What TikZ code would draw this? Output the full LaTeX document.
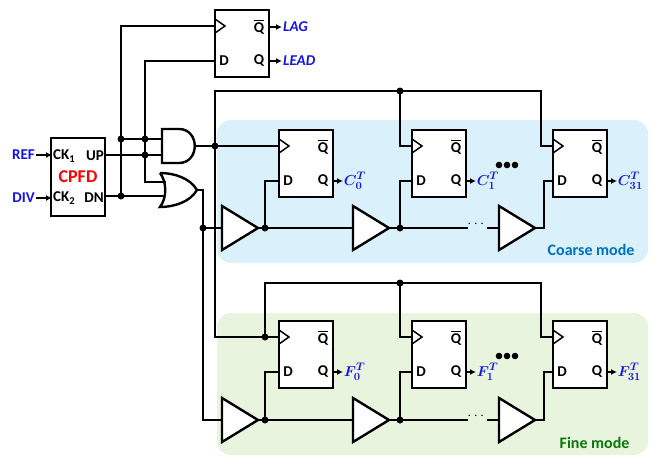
\documentclass[tikz,border=0pt]{standalone}
\usepackage{fontspec}
\setmainfont{Carlito}
\usepackage{amsmath,bm}
\usetikzlibrary{arrows.meta}

\definecolor{sigblue}{RGB}{20,20,230}
\definecolor{coarsebg}{RGB}{218,240,251}
\definecolor{finebg}{RGB}{232,244,222}
\definecolor{coarsetxt}{RGB}{0,112,192}
\definecolor{finetxt}{RGB}{10,120,10}

\tikzset{
  wire/.style={line width=1.9pt},
  ff/.style={line width=2.6pt, fill=white},
  buf/.style={line width=2.4pt, fill=white},
  dot/.style={circle, fill=black, inner sep=0pt, minimum size=7pt},
  pin/.style={font=\bfseries\fontsize{15}{15}\selectfont, inner sep=0pt},
  sig/.style={font=\bfseries\fontsize{15}{15}\selectfont, text=sigblue, inner sep=1pt},
  outarrow/.style={wire, -{Latex[length=6pt,width=6pt]}},
}

% flip-flop: name, left x, top y
\newcommand{\dffbox}[3]{%
  \draw[ff] (#2,#3) rectangle ++(54,67);
  \draw[line width=1.5pt] (#2,#3+9) -- (#2+10,#3+16) -- (#2,#3+23);
  \node[pin] at (#2+9,#3+51) {D};
  \node[pin] at (#2+44,#3+51) {Q};
  \node[pin] at (#2+44,#3+17) {$\overline{\mbox{Q}}$};
  \coordinate (#1-clk) at (#2,#3+16);
  \coordinate (#1-d) at (#2,#3+51);
  \coordinate (#1-q) at (#2+54,#3+51);
}
% buffer: name, input x, mid y
\newcommand{\bufgate}[3]{%
  \draw[buf] (#2,#3-22) -- (#2+36,#3) -- (#2,#3+22) -- cycle;
  \coordinate (#1-in) at (#2,#3);
  \coordinate (#1-out) at (#2+36,#3);
}

\begin{document}
\begin{tikzpicture}[x=1pt,y=-1pt]
  \useasboundingbox (0,0) rectangle (656,464);

  % mode regions
  \fill[coarsebg, rounded corners=14pt] (217,120) rectangle (648,263);
  \fill[finebg, rounded corners=14pt] (217,313) rectangle (648,455);
  \node[font=\bfseries\fontsize{16}{16}\selectfont, text=coarsetxt, anchor=east] (cmode) at (638,250) {Coarse mode};
  \node[font=\bfseries\fontsize{16}{16}\selectfont, text=finetxt, anchor=east] (fmode) at (633,443) {Fine mode};

  % CPFD
  \draw[ff] (51,138) rectangle (105,216);
  \node[pin, anchor=west] (ck1) at (53,156) {CK\textsubscript{1}};
  \node[pin, anchor=east] (up) at (104,156) {UP};
  \node[pin, anchor=west] (ck2) at (53,198) {CK\textsubscript{2}};
  \node[pin, anchor=east] (dn) at (104,198) {DN};
  \node[font=\bfseries\fontsize{18}{18}\selectfont, text=red] (cpfd) at (78,177) {CPFD};
  \node[sig, anchor=east] (ref) at (36,155) {REF};
  \node[sig, anchor=east] (div) at (36,198) {DIV};
  \draw[outarrow] (ref) -- (52,155);
  \draw[outarrow] (div) -- (52,198);

  % lead/lag flip-flop
  \dffbox{ll}{215}{10}
  \node[sig, font=\bfseries\itshape\fontsize{15}{15}\selectfont, anchor=west] (lag) at (282,27) {LAG};
  \node[sig, font=\bfseries\itshape\fontsize{15}{15}\selectfont, anchor=west] (lead) at (282,61) {LEAD};
  \draw[outarrow] (269,27) -- (lag);
  \draw[outarrow] (ll-q) -- (lead);

  % gates
  \draw[buf] (162,129) -- (179,129) .. controls (200,129) and (200,163) .. (179,163) -- (162,163) -- cycle;
  \draw[buf] (160,173) .. controls (174,173) and (190,178) .. (197,190) .. controls (190,202) and (174,207) .. (160,207) .. controls (167,198) and (167,182) .. (160,173);

  % phase detector wiring
  \draw[wire] (105,155) -- (162,155);
  \draw[wire] (105,196) -- (165,196);
  \draw[wire] (121,196) |- (ll-clk);
  \draw[wire] (121,139) -- (162,139);
  \draw[wire] (ll-d) -| (145,182) -- (166,182);
  \node[dot] at (121,139) {}; \node[dot] at (145,139) {};
  \node[dot] at (145,155) {}; \node[dot] at (121,196) {};

  % flip-flop rows
  \foreach \n/\x in {0/279,1/412,31/553} {
    \dffbox{c\n}{\x}{130}
    \dffbox{f\n}{\x}{321}
    \draw[outarrow] (c\n-q) -- ++(10,0) node[sig, anchor=west, inner sep=0pt, font=\fontsize{15}{15}\selectfont\boldmath] {$C^{T}_{\n}$};
    \draw[outarrow] (f\n-q) -- ++(10,0) node[sig, anchor=west, inner sep=0pt, font=\fontsize{15}{15}\selectfont\boldmath] {$F^{T}_{\n}$};
  }
  \foreach \y in {165,356}
    \foreach \x in {499,507,515}
      \fill (\x,\y) circle (3.3pt);

  % clock distribution
  \draw[wire] (196,146) -- (c0-clk);
  \node[dot] at (215,146) {};
  \draw[wire] (f0-clk) -| (215,91) -| (541,146) -- (c31-clk);
  \draw[wire] (400,91) |- (c1-clk);
  \node[dot] at (400,91) {};
  \draw[wire] (265,337) |- (541,283) |- (f31-clk);
  \draw[wire] (400,283) |- (f1-clk);
  \node[dot] at (265,337) {}; \node[dot] at (400,283) {};

  % delay lines
  \draw[wire] (197,190) -| (203,420) -- (222,420);
  \draw[wire] (203,228) -- (222,228);
  \node[dot] at (203,228) {};
  \foreach \r/\y/\dy in {c/228/181,f/420/372} {
    \bufgate{\r b0}{222}{\y}
    \bufgate{\r b1}{353}{\y}
    \bufgate{\r b2}{499}{\y}
    \draw[wire] (\r b0-out) -- (\r b1-in);
    \draw[wire] (265,\y) |- (\r0-d);
    \draw[wire] (\r b1-out) -- (468,\y);
    \draw[wire] (400,\y) |- (\r1-d);
    \draw[wire] (487,\y) -- (\r b2-in);
    \draw[wire] (\r b2-out) -| (544,\dy) -- (\r31-d);
    \node[dot] at (265,\y) {}; \node[dot] at (400,\y) {};
    \node[font=\bfseries\fontsize{15}{15}\selectfont] at (477,\y-4) {$\cdots$};
  }
\end{tikzpicture}
\end{document}
